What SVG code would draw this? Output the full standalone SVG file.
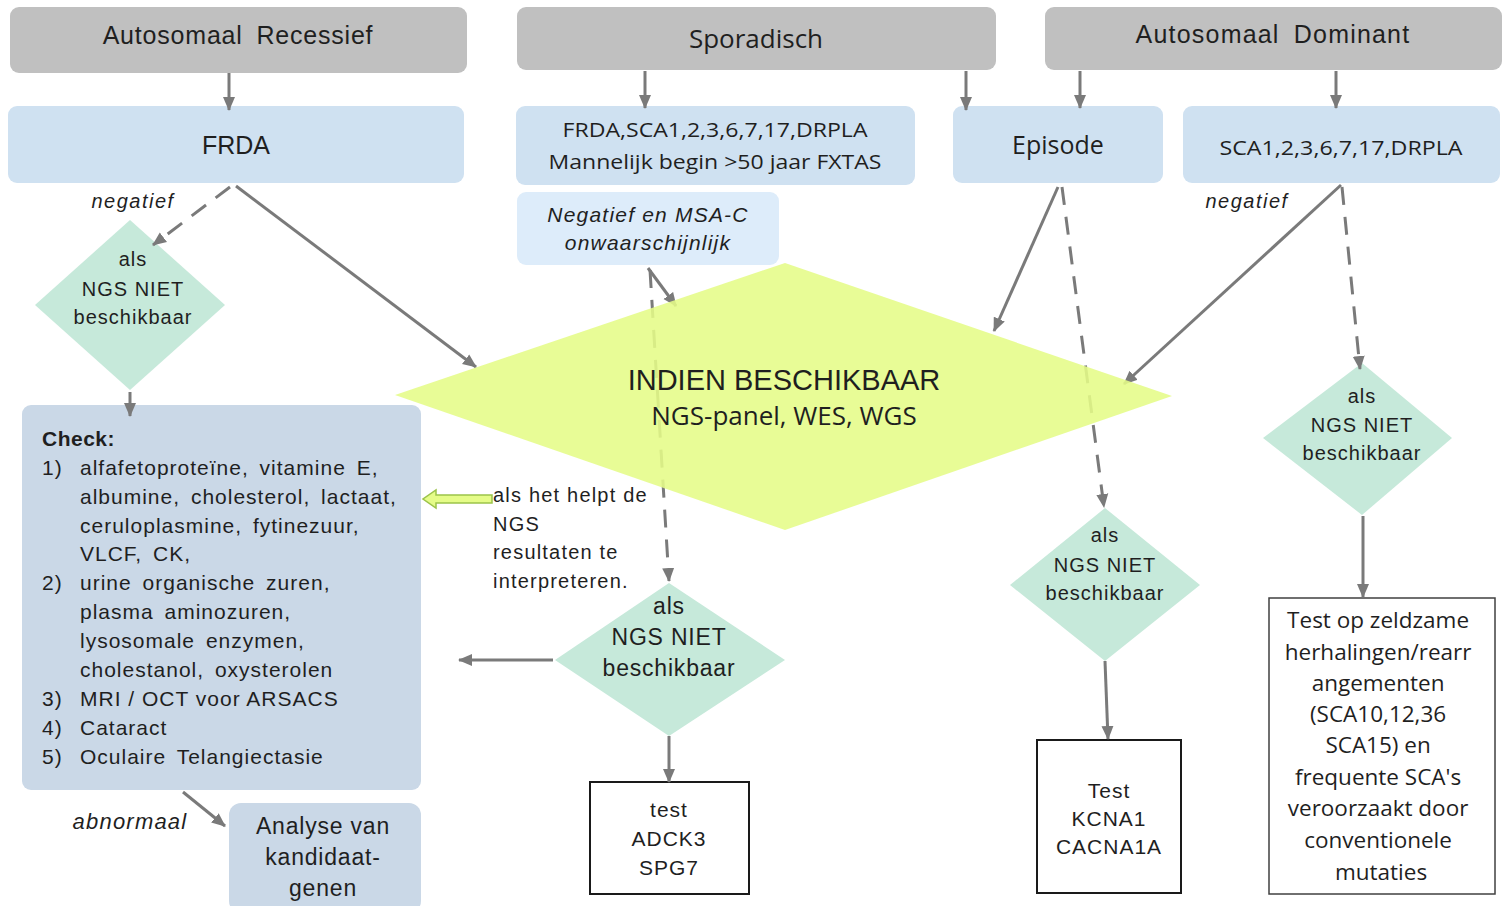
<svg xmlns="http://www.w3.org/2000/svg" width="1505" height="906" viewBox="0 0 1505 906">
<defs>
<marker id="ah" markerUnits="userSpaceOnUse" markerWidth="14" markerHeight="14" viewBox="0 0 14 14" refX="13" refY="7" orient="auto">
<path d="M0,1 L14,7 L0,13 z" fill="#7a7a7a"/>
</marker>
<style>
.gray{fill:#c0c0c0}
.blue{fill:#cfe1f1}
.lblue{fill:#ddecfa}
.check{fill:#cad8e7}
.dia{fill:#c6e9da}
.box{fill:#ffffff;stroke:#1a1a1a;stroke-width:2}
.t{font-family:"Liberation Sans",Arial,sans-serif;fill:#1f1f1f}
.c{font-family:"Open Sans","Liberation Sans",sans-serif;fill:#1f1f1f}
.it{font-style:italic}
.con{stroke:#7a7a7a;stroke-width:3;fill:none}
.dash{stroke-dasharray:18 12}
.dt{font-size:20px;letter-spacing:1px}
</style>
</defs>

<g id="ar">
<rect class="gray" x="10" y="7" width="457" height="66" rx="9"/>
<text class="t" x="238" y="44" font-size="25" text-anchor="middle" letter-spacing="0.8" word-spacing="6">Autosomaal Recessief</text>
</g>
<g id="spor">
<rect class="gray" x="517" y="7" width="479" height="63" rx="9"/>
<text class="c" x="756" y="48" font-size="26" text-anchor="middle">Sporadisch</text>
</g>
<g id="ad">
<rect class="gray" x="1045" y="7" width="457" height="63" rx="9"/>
<text class="t" x="1273" y="43" font-size="25" text-anchor="middle" letter-spacing="1.2" word-spacing="6">Autosomaal Dominant</text>
</g>

<g id="frda">
<rect class="blue" x="8" y="106" width="456" height="77" rx="9"/>
<text class="t" x="236" y="154" font-size="25" text-anchor="middle">FRDA</text>
</g>
<g id="sporlist">
<rect class="blue" x="516" y="106" width="399" height="79" rx="9"/>
<text class="c" x="715" y="137" font-size="20" text-anchor="middle" textLength="305" lengthAdjust="spacingAndGlyphs">FRDA,SCA1,2,3,6,7,17,DRPLA</text>
<text class="c" x="715" y="169" font-size="20" text-anchor="middle" textLength="333" lengthAdjust="spacingAndGlyphs">Mannelijk begin &gt;50 jaar FXTAS</text>
</g>
<g id="episode">
<rect class="blue" x="953" y="106" width="210" height="77" rx="9"/>
<text class="c" x="1058" y="154" font-size="25" text-anchor="middle">Episode</text>
</g>
<g id="adlist">
<rect class="blue" x="1183" y="106" width="317" height="77" rx="9"/>
<text class="c" x="1341" y="155" font-size="20" text-anchor="middle" textLength="243" lengthAdjust="spacingAndGlyphs">SCA1,2,3,6,7,17,DRPLA</text>
</g>

<g id="msac">
<rect class="lblue" x="517" y="192" width="262" height="73" rx="9"/>
<text class="t it" x="648" y="222" font-size="21" text-anchor="middle" letter-spacing="1.2">Negatief en MSA-C</text>
<text class="t it" x="648" y="250" font-size="21" text-anchor="middle" letter-spacing="1.2">onwaarschijnlijk</text>
</g>

<text class="t it" x="133" y="208" font-size="20" text-anchor="middle" letter-spacing="1.5">negatief</text>
<text class="t it" x="1247" y="208" font-size="20" text-anchor="middle" letter-spacing="1.5">negatief</text>

<g id="dia1">
<polygon class="dia" points="130,220 225,305 130,390 35,305"/>
<text class="t dt" x="133" y="266" text-anchor="middle">als</text>
<text class="t dt" x="133" y="296" text-anchor="middle">NGS NIET</text>
<text class="t dt" x="133" y="324" text-anchor="middle">beschikbaar</text>
</g>

<g id="check">
<rect class="check" x="22" y="405" width="399" height="385" rx="9"/>
<text class="t" font-size="21" letter-spacing="1">
<tspan x="42" y="446" font-weight="bold" letter-spacing="0.5">Check:</tspan>
<tspan x="42" y="475">1)</tspan><tspan x="80" y="475" word-spacing="4">alfafetoproteïne, vitamine E,</tspan>
<tspan x="80" y="504" word-spacing="4">albumine, cholesterol, lactaat,</tspan>
<tspan x="80" y="533" word-spacing="4">ceruloplasmine, fytinezuur,</tspan>
<tspan x="80" y="561" word-spacing="4">VLCF, CK,</tspan>
<tspan x="42" y="590">2)</tspan><tspan x="80" y="590" word-spacing="4">urine organische zuren,</tspan>
<tspan x="80" y="619" word-spacing="4">plasma aminozuren,</tspan>
<tspan x="80" y="648" word-spacing="4">lysosomale enzymen,</tspan>
<tspan x="80" y="677" word-spacing="4">cholestanol, oxysterolen</tspan>
<tspan x="42" y="706">3)</tspan><tspan x="80" y="706">MRI / OCT voor ARSACS</tspan>
<tspan x="42" y="735">4)</tspan><tspan x="80" y="735">Cataract</tspan>
<tspan x="42" y="764">5)</tspan><tspan x="80" y="764" word-spacing="4">Oculaire Telangiectasie</tspan>
</text>
</g>

<text class="t it" x="130" y="829" font-size="22" text-anchor="middle" letter-spacing="1.2">abnormaal</text>

<g id="analyse">
<rect class="check" x="229" y="803" width="192" height="110" rx="12"/>
<text class="t" x="323" y="834" font-size="23" text-anchor="middle" letter-spacing="0.8">Analyse van</text>
<text class="t" x="323" y="865" font-size="23" text-anchor="middle" letter-spacing="0.8">kandidaat-</text>
<text class="t" x="323" y="896" font-size="23" text-anchor="middle" letter-spacing="0.8">genen</text>
</g>

<g id="helptxt">
<text class="t" font-size="20" letter-spacing="1.2">
<tspan x="493" y="502">als het helpt de</tspan>
<tspan x="493" y="531">NGS</tspan>
<tspan x="493" y="559">resultaten te</tspan>
<tspan x="493" y="588">interpreteren.</tspan>
</text>
</g>

<g id="dia2">
<polygon class="dia" points="669,583 785,660 669,736 555,660"/>
<text class="t" x="669" y="614" font-size="23" text-anchor="middle" letter-spacing="0.8">als</text>
<text class="t" x="669" y="645" font-size="23" text-anchor="middle" letter-spacing="0.8">NGS NIET</text>
<text class="t" x="669" y="676" font-size="23" text-anchor="middle" letter-spacing="0.8">beschikbaar</text>
</g>

<g id="test1">
<rect class="box" x="590" y="782" width="159" height="112"/>
<text class="t" x="669" y="817" font-size="21" text-anchor="middle" letter-spacing="1">test</text>
<text class="t" x="669" y="846" font-size="21" text-anchor="middle" letter-spacing="1">ADCK3</text>
<text class="t" x="669" y="875" font-size="21" text-anchor="middle" letter-spacing="1">SPG7</text>
</g>

<g id="dia3">
<polygon class="dia" points="1105,508 1200,585 1105,661 1010,585"/>
<text class="t dt" x="1105" y="542" text-anchor="middle">als</text>
<text class="t dt" x="1105" y="572" text-anchor="middle">NGS NIET</text>
<text class="t dt" x="1105" y="600" text-anchor="middle">beschikbaar</text>
</g>

<g id="test2">
<rect class="box" x="1037" y="740" width="144" height="153"/>
<text class="t" x="1109" y="798" font-size="21" text-anchor="middle" letter-spacing="1">Test</text>
<text class="t" x="1109" y="826" font-size="21" text-anchor="middle" letter-spacing="1">KCNA1</text>
<text class="t" x="1109" y="854" font-size="21" text-anchor="middle" letter-spacing="1">CACNA1A</text>
</g>

<g id="dia4">
<polygon class="dia" points="1362,363 1452,438 1362,515 1263,438"/>
<text class="t dt" x="1362" y="403" text-anchor="middle">als</text>
<text class="t dt" x="1362" y="432" text-anchor="middle">NGS NIET</text>
<text class="t dt" x="1362" y="460" text-anchor="middle">beschikbaar</text>
</g>

<g id="test3">
<rect x="1269" y="598" width="226" height="296" fill="#ffffff" stroke="#404040" stroke-width="1.5"/>
<text class="c" font-size="22.5" text-anchor="middle">
<tspan x="1381" y="628">Test op zeldzame</tspan>
<tspan x="1381" y="660">herhalingen/rearr</tspan>
<tspan x="1381" y="691">angementen</tspan>
<tspan x="1381" y="722">(SCA10,12,36</tspan>
<tspan x="1381" y="753">SCA15) en</tspan>
<tspan x="1381" y="785">frequente SCA's</tspan>
<tspan x="1381" y="816">veroorzaakt door</tspan>
<tspan x="1381" y="848">conventionele</tspan>
<tspan x="1381" y="880">mutaties</tspan>
</text>
</g>

<g id="connectors">
<line class="con" x1="229" y1="73" x2="229" y2="110" marker-end="url(#ah)"/>
<line class="con" x1="645" y1="71" x2="645" y2="108" marker-end="url(#ah)"/>
<line class="con" x1="966" y1="71" x2="966" y2="110" marker-end="url(#ah)"/>
<line class="con" x1="1080" y1="71" x2="1080" y2="108" marker-end="url(#ah)"/>
<line class="con" x1="1336" y1="71" x2="1336" y2="108" marker-end="url(#ah)"/>
<line class="con" x1="236" y1="186" x2="476" y2="367" marker-end="url(#ah)"/>
<line class="con dash" x1="230" y1="187" x2="153" y2="245" marker-end="url(#ah)"/>
<line class="con" x1="130" y1="392" x2="130" y2="416" marker-end="url(#ah)"/>
<line class="con" x1="183" y1="792" x2="225" y2="826" marker-end="url(#ah)"/>
<line class="con" x1="648" y1="268" x2="676" y2="306" marker-end="url(#ah)"/>
<line class="con dash" x1="650" y1="270" x2="669" y2="581" marker-end="url(#ah)"/>
<line class="con" x1="669" y1="736" x2="669" y2="782" marker-end="url(#ah)"/>
<line class="con" x1="553" y1="660" x2="459" y2="660" marker-end="url(#ah)"/>
<line class="con" x1="1058" y1="187" x2="994" y2="331" marker-end="url(#ah)"/>
<line class="con dash" x1="1062" y1="187" x2="1104" y2="507" marker-end="url(#ah)"/>
<line class="con" x1="1341" y1="185" x2="1124" y2="384" marker-end="url(#ah)"/>
<line class="con dash" x1="1342" y1="187" x2="1360" y2="369" marker-end="url(#ah)"/>
<line class="con" x1="1105" y1="661" x2="1108" y2="739" marker-end="url(#ah)"/>
<line class="con" x1="1363" y1="516" x2="1363" y2="597" marker-end="url(#ah)"/>
<path d="M492,495 L436,495 L436,490 L423,499 L436,508 L436,503 L492,503 Z" fill="#e5fc88" stroke="#9cc34a" stroke-width="1.5"/>
</g>

<g id="ngs">
<polygon fill="#e5fc88" fill-opacity="0.88" points="395,395 785,263 1172,396 785,530"/>
<text class="t" x="784" y="390" font-size="29" text-anchor="middle">INDIEN BESCHIKBAAR</text>
<text class="c" x="784" y="425" font-size="26" text-anchor="middle">NGS-panel, WES, WGS</text>
</g>
</svg>
